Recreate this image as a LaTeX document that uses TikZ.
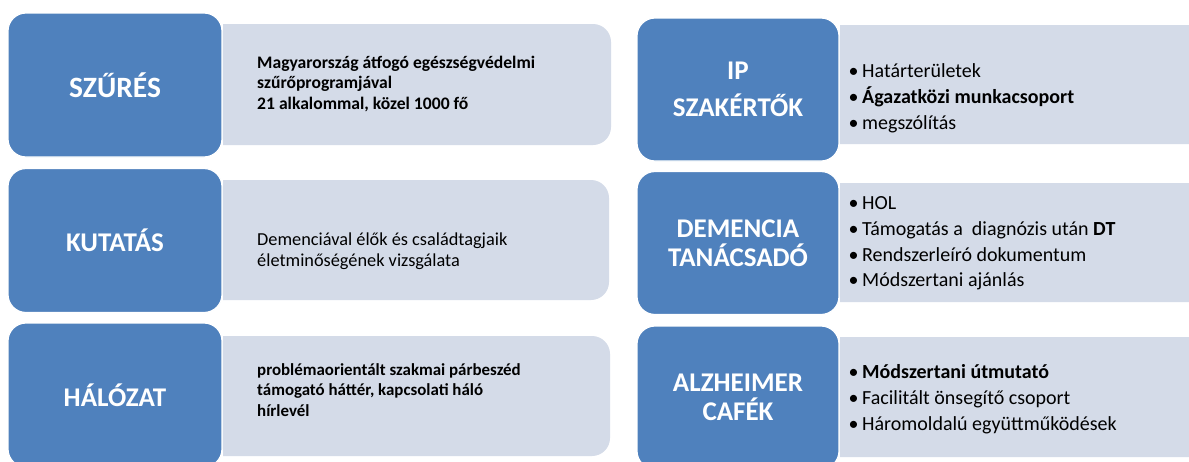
\documentclass[tikz,border=0pt]{standalone}
\usepackage{fontspec}
\setmainfont{Carlito}
\usetikzlibrary{decorations.pathmorphing}
\definecolor{boxblue}{RGB}{79,129,189}
\definecolor{boxgray}{RGB}{212,219,232}
\newcommand\bul{\makebox[13.5pt][l]{\textbullet}}
\newlength\facw
\begin{document}
\begin{tikzpicture}[x=1pt,y=-1pt,
  headL/.style={fill=boxblue, draw=white, line width=1.2pt, rounded corners=18pt,
    minimum width=214pt, minimum height=144pt, inner sep=0pt, text=white, align=center,
    font=\bfseries\fontsize{27}{29}\selectfont},
  headR/.style={headL, minimum width=202pt, minimum height=143pt},
  graybox/.style={fill=boxgray, rounded corners=18pt},
  bodyL/.style={anchor=west, inner sep=0pt, align=left, font=\bfseries\fontsize{17.2}{20.6}\selectfont},
  bodyLr/.style={bodyL, font=\fontsize{18.3}{20.6}\selectfont},
  bodyR/.style={anchor=west, inner sep=0pt, align=left, font=\fontsize{20}{25.8}\selectfont}
]
\useasboundingbox (0,0) rectangle (1189,461);
\fill[white] (0,0) rectangle (1189,461);

% gray boxes (left column)
\begin{scope}
\clip (223,0) rectangle (630,461);
\fill[graybox] (200,24) rectangle (611,145);
\fill[graybox] (200,180) rectangle (609,300);
\fill[graybox] (200,336) rectangle (610,456);
\end{scope}
% gray boxes (right column)
\begin{scope}
\clip (840,0) rectangle (1189,461);
\fill[graybox] (820,25) rectangle (1220,144);
\fill[graybox] (820,183) rectangle (1220,302);
\fill[graybox] (820,337) rectangle (1220,457);
\end{scope}

% heading boxes
\node[headL, font=\bfseries\fontsize{29.5}{31}\selectfont] (szures) at (115,85) {SZŰRÉS};
\node[headL] (kutatas) at (115,240.5) {KUTATÁS};
\node[headL] (halozat) at (115,395) {HÁLÓZAT};
\node[headR] (ip) at (738,89.5) {IP\\[8pt]SZAKÉRTŐK};
\node[headR] (demencia) at (738,243) {DEMENCIA\\TANÁCSADÓ};
\node[headR] (alzheimer) at (738,397.5) {ALZHEIMER\\CAFÉK};

% body texts left
\node[bodyL, font=\bfseries\fontsize{17.6}{20.6}\selectfont] (t1) at (257,84) {Magyarország átfogó egészségvédelmi\\szűrőprogramjával\\21 alkalommal, közel 1000 fő};
\node[bodyLr] (t2) at (257,251) {Demenciával élők és családtagjaik\\életminőségének vizsgálata};
\node[bodyL, font=\bfseries\fontsize{16.9}{20.6}\selectfont] (t3) at (257,390) {problémaorientált szakmai párbeszéd\\támogató háttér, kapcsolati háló\\hírlevél};

% body texts right
\node[bodyR] (r1) at (848.5,98.5) {\bul Határterületek\\\bul\textbf{Ágazatközi munkacsoport}\\\bul megszólítás};
\node[bodyR] (r2) at (848.5,243.5) {\bul HOL\\\bul Támogatás a\ \ diagnózis után \textbf{DT}\\\bul Rendszerleíró dokumentum\\\bul Módszertani ajánlás};
\node[bodyR] (r3) at (848.5,399) {\bul\textbf{Módszertani útmutató}\\\bul Facilitált önsegítő csoport\\\bul Háromoldalú együttműködések};

% spell-check squiggle under "Facilitált"
\settowidth\facw{\fontsize{20}{25.8}\selectfont Facilitált}
\coordinate (fa) at (862,407);
\draw[red!85!black, line width=0.5pt, decorate, decoration={snake, amplitude=0.5pt, segment length=2.5pt}]
  (fa) -- ++(\facw,0pt);
\end{tikzpicture}
\end{document}
